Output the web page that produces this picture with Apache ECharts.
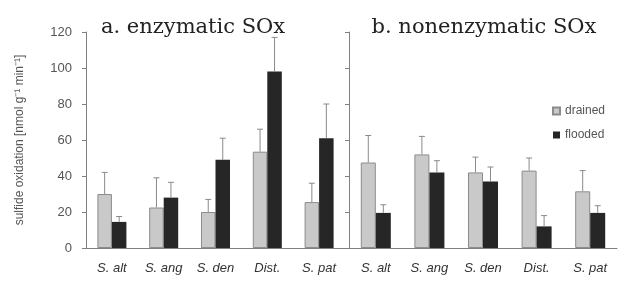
<!DOCTYPE html>
<html>
<head>
<meta charset="utf-8">
<script src="https://cdn.jsdelivr.net/npm/echarts@6/dist/echarts.min.js"></script>
<style>
  html, body { margin: 0; padding: 0; background: #fff; }
  #chart { width: 628px; height: 284px; }
</style>
</head>
<body>
<div id="chart"></div>
<script>
// species / sites
var categories = ["S. alt", "S. ang", "S. den", "Dist.", "S. pat"];
var yTicks = [0, 20, 40, 60, 80, 100, 120];

// a. enzymatic SOx (mean, upper error)
var enzDrained = [30, 22.5, 20, 53.5, 25.5];
var enzDrainedErr = [12, 16.5, 7, 12.5, 10.5];
var enzFlooded = [14.5, 28, 49, 98, 61];
var enzFloodedErr = [3, 8.5, 12, 19, 19];

// b. nonenzymatic SOx
var nonDrained = [47.5, 52, 42, 43, 31.5];
var nonDrainedErr = [15, 10, 8.5, 7, 11.5];
var nonFlooded = [19.5, 42, 37, 12, 19.5];
var nonFloodedErr = [4.5, 6.5, 8, 6, 4];

var chart = echarts.init(document.getElementById("chart"));

var axisColor = "#808080";
var drainedColor = "#c9c9c9";
var floodedColor = "#262626";

function errSeries(means, errs, side, idx) {
  return {
    type: "custom",
    xAxisIndex: idx,
    yAxisIndex: idx,
    z: 5,
    silent: true,
    data: means.map(function (m, i) { return [i, m, m + errs[i]]; }),
    renderItem: function (params, api) {
      var cw = api.size([1, 0])[0];
      var base = api.coord([api.value(0), api.value(1)]);
      var top = api.coord([api.value(0), api.value(2)]);
      var x = base[0] + side * 0.14 * cw;
      var style = { stroke: "#8a8a8a", lineWidth: 1 };
      return {
        type: "group",
        children: [
          { type: "line", shape: { x1: x, y1: base[1], x2: x, y2: top[1] }, style: style },
          { type: "line", shape: { x1: x - 3, y1: top[1], x2: x + 3, y2: top[1] }, style: style }
        ]
      };
    }
  };
}

function xAxis(idx) {
  return {
    type: "category",
    gridIndex: idx,
    data: categories,
    axisLine: { lineStyle: { color: axisColor } },
    axisTick: { length: 4, lineStyle: { color: axisColor } },
    axisLabel: { fontStyle: "italic", fontSize: 13, color: "#333", margin: 14, fontFamily: "Liberation Sans" }
  };
}

function yAxis(idx, showLabels) {
  return {
    type: "value",
    gridIndex: idx,
    min: 0,
    max: 120,
    interval: 20,
    name: showLabels ? "sulfide oxidation [nmol g\u207B\u00B9 min\u207B\u00B9]" : "",
    nameLocation: "middle",
    nameRotate: 90,
    nameGap: 60,
    nameTextStyle: { fontSize: 12, color: "#555", fontFamily: "Liberation Sans" },
    splitLine: { show: false },
    axisLine: { show: true, lineStyle: { color: axisColor } },
    axisTick: { show: true, length: 4, lineStyle: { color: axisColor } },
    axisLabel: { show: showLabels, fontSize: 13, color: "#555", margin: 14, fontFamily: "Liberation Sans" }
  };
}

var option = {
  animation: false,
  title: [
    {
      text: "a. enzymatic SOx",
      left: 188,
      top: 12,
      textAlign: "center",
      textStyle: { fontFamily: "DejaVu Serif", fontWeight: "normal", fontSize: 21, color: "#222" }
    },
    {
      text: "b. nonenzymatic SOx",
      left: 479,
      top: 12,
      textAlign: "center",
      textStyle: { fontFamily: "DejaVu Serif", fontWeight: "normal", fontSize: 21, color: "#222" }
    }
  ],
  legend: {
    data: ["drained", "flooded"],
    orient: "vertical",
    left: 547,
    top: 100,
    itemWidth: 7,
    itemHeight: 7,
    itemGap: 12,
    icon: "rect",
    textStyle: { fontSize: 12, color: "#555", fontFamily: "Liberation Sans" },
    selectedMode: false
  },
  grid: [
    { left: 86, top: 32, width: 259, height: 216 },
    { left: 349, top: 32, width: 268, height: 216 }
  ],
  xAxis: [xAxis(0), xAxis(1)],
  yAxis: [yAxis(0, true), yAxis(1, false)],
  series: [
    {
      name: "drained", type: "bar", xAxisIndex: 0, yAxisIndex: 0,
      data: enzDrained, barWidth: "28%", barGap: "0%",
      itemStyle: { color: drainedColor, borderColor: "#8c8c8c", borderWidth: 1 }
    },
    {
      name: "flooded", type: "bar", xAxisIndex: 0, yAxisIndex: 0,
      data: enzFlooded, barWidth: "28%", barGap: "0%",
      itemStyle: { color: floodedColor }
    },
    {
      name: "drained", type: "bar", xAxisIndex: 1, yAxisIndex: 1,
      data: nonDrained, barWidth: "28%", barGap: "0%",
      itemStyle: { color: drainedColor, borderColor: "#8c8c8c", borderWidth: 1 }
    },
    {
      name: "flooded", type: "bar", xAxisIndex: 1, yAxisIndex: 1,
      data: nonFlooded, barWidth: "28%", barGap: "0%",
      itemStyle: { color: floodedColor }
    },
    errSeries(enzDrained, enzDrainedErr, -1, 0),
    errSeries(enzFlooded, enzFloodedErr, 1, 0),
    errSeries(nonDrained, nonDrainedErr, -1, 1),
    errSeries(nonFlooded, nonFloodedErr, 1, 1)
  ]
};

chart.setOption(option);
</script>
</body>
</html>
